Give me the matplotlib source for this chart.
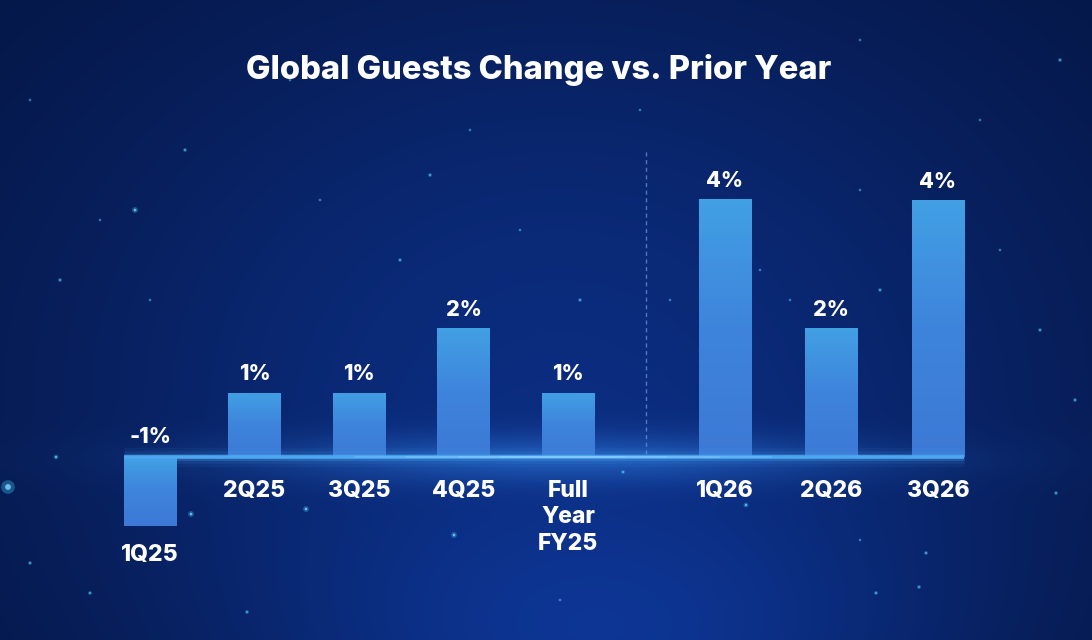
import numpy as np
import matplotlib.pyplot as plt
from matplotlib.colors import LinearSegmentedColormap

# ------------------------------------------
# data
# ------------------------------------------
categories = ["1Q25", "2Q25", "3Q25", "4Q25", "Full\nYear\nFY25", "1Q26", "2Q26", "3Q26"]
values = [-1.07, 1, 1, 2, 1, 4, 2, 3.98]
value_labels = ["-1%", "1%", "1%", "2%", "1%", "4%", "2%", "4%"]
title = "Global Guests Change vs. Prior Year"

# layout (slot positions, gap between FY25 and 2026 quarters)
xpos = [0, 1, 2, 3, 4, 5.5, 6.52, 7.54]
divider_x = 4.75

# decorative background sparkles (pixel coords, size)
stars = [
    (8, 487, 7), (56, 457, 2.5), (306, 509, 3), (191, 514, 3), (454, 535, 3),
    (30, 563, 2), (90, 593, 2), (247, 612, 2), (746, 505, 2.5), (623, 472, 2),
    (1056, 493, 2), (926, 553, 2), (876, 593, 2), (919, 587, 2), (185, 150, 2),
    (320, 200, 1.5), (400, 260, 2), (470, 130, 1.5), (520, 230, 1.5), (580, 300, 2),
    (640, 110, 1.5), (715, 235, 2), (760, 270, 1.5), (860, 190, 1.5), (880, 290, 2),
    (1000, 250, 1.5), (1040, 330, 2), (60, 280, 2), (100, 220, 1.5), (30, 100, 1.5),
    (980, 120, 1.5), (1060, 60, 2), (150, 300, 1.5), (670, 300, 1.5), (950, 450, 1.5),
    (700, 350, 1.5), (790, 300, 1.5), (860, 540, 1.5), (560, 600, 1.5), (135, 210, 3),
    (430, 175, 2), (1075, 400, 2), (290, 80, 1.5), (860, 40, 1.5), (250, 420, 1.5),
]

W, H = 1092, 640
FONT = ["Inter", "DejaVu Sans"]

fig = plt.figure(figsize=(W / 100, H / 100), dpi=100)

# ------------------------------------------
# background
# ------------------------------------------
bg = fig.add_axes([0, 0, 1, 1])
bg.set_axis_off()
yy, xx = np.mgrid[0:H, 0:W]
edge = np.array([4, 20, 64]) / 255.0
mid = np.array([11, 44, 125]) / 255.0
glow = np.array([16, 64, 175]) / 255.0
t = np.exp(-((xx - 560) / 560.0) ** 2 - ((yy - 380) / 430.0) ** 2)
g = np.exp(-((xx - 600) / 300.0) ** 2 - ((yy - 640) / 160.0) ** 2)
img = edge[None, None, :] * (1 - t[..., None]) + mid[None, None, :] * t[..., None]
img = img * (1 - 0.6 * g[..., None]) + glow[None, None, :] * 0.6 * g[..., None]
# soft halo around the base line
h = np.exp(-((xx - 560) / 300.0) ** 2 - ((yy - 458) / 24.0) ** 2)
halo = np.array([45, 120, 220]) / 255.0
img = img * (1 - 0.55 * h[..., None]) + halo[None, None, :] * 0.55 * h[..., None]
bg.imshow(img, extent=[0, W, H, 0], aspect="auto")
bg.set_xlim(0, W)
bg.set_ylim(H, 0)
sx = [s[0] for s in stars]
sy = [s[1] for s in stars]
ss = [s[2] for s in stars]
bg.scatter(sx, sy, s=[(v * 1.4) ** 2 for v in ss], color="#3fc3f0", alpha=0.35, lw=0)
bg.scatter(sx, sy, s=[(v * 0.6) ** 2 for v in ss], color="#7fd8ff", alpha=0.8, lw=0)

# ------------------------------------------
# chart
# ------------------------------------------
ax = fig.add_axes([0, 0, 1, 1])
ax.patch.set_alpha(0)
ax.set_axis_off()
unit_x = 104.5
unit_y = 64.5
x0_px, y0_px = 150, 457
ax.set_xlim(-x0_px / unit_x, (W - x0_px) / unit_x)
ax.set_ylim(-(H - y0_px) / unit_y, y0_px / unit_y)

bar_cmap = LinearSegmentedColormap.from_list("bar", ["#3c79d6", "#3e84dc", "#42a0e4"])
bars = ax.bar(xpos, values, width=0.5, color="none", zorder=3)
for b in bars:
    x, y = b.get_x(), b.get_y()
    w, hh = b.get_width(), b.get_height()
    grad = np.linspace(0, 1, 256).reshape(-1, 1)
    im = ax.imshow(grad, cmap=bar_cmap, origin="lower", aspect="auto",
                   extent=[x, x + w, min(y, y + hh), max(y, y + hh)], zorder=3)
    im.set_clip_path(b)

# glowing base line
x_left = xpos[0] - 0.25
x_right = xpos[-1] + 0.25
for lw, a in [(14, 0.06), (9, 0.1), (5, 0.25)]:
    ax.plot([x_left, x_right], [0, 0], color="#4aa8f2", lw=lw, alpha=a,
            solid_capstyle="butt", zorder=4)
ax.plot([x_left, x_right], [0, 0], color="#4da7f0", lw=2.6, solid_capstyle="butt", zorder=4)
# brighter centre of the line, fading out to the sides
for half in [2.0, 1.5, 1.0, 0.6]:
    ax.plot([3.95 - half, 3.95 + half], [0, 0], color="#b0e0ff", lw=1.3, alpha=0.2,
            solid_capstyle="butt", zorder=4)

# dashed divider
ax.plot([divider_x, divider_x], [0.05, (y0_px - 150) / unit_y], color="#5b8fd6",
        lw=1, ls=(0, (3, 2.5)), alpha=0.8, zorder=2)

# value labels
for x, v, lab in zip(xpos, values, value_labels):
    ty = v + 0.28 if v > 0 else 0.31
    ax.text(x, ty, lab, ha="center", va="center", color="white", fontsize=15.5,
            fontweight="heavy", family=FONT, zorder=5)

# category labels
for x, v, cat in zip(xpos, values, categories):
    ty = -0.54 if v > 0 else v - 0.47
    ax.text(x, ty + 0.19, cat, ha="center", va="top", color="white", fontsize=16.5,
            fontweight="heavy", family=FONT, linespacing=1.28, zorder=5)

fig.text(539 / W, 1 - 70 / H, title, ha="center", va="center", color="white",
         fontsize=23.5, fontweight="heavy", family=FONT)

fig.savefig("out.png", dpi=100)
